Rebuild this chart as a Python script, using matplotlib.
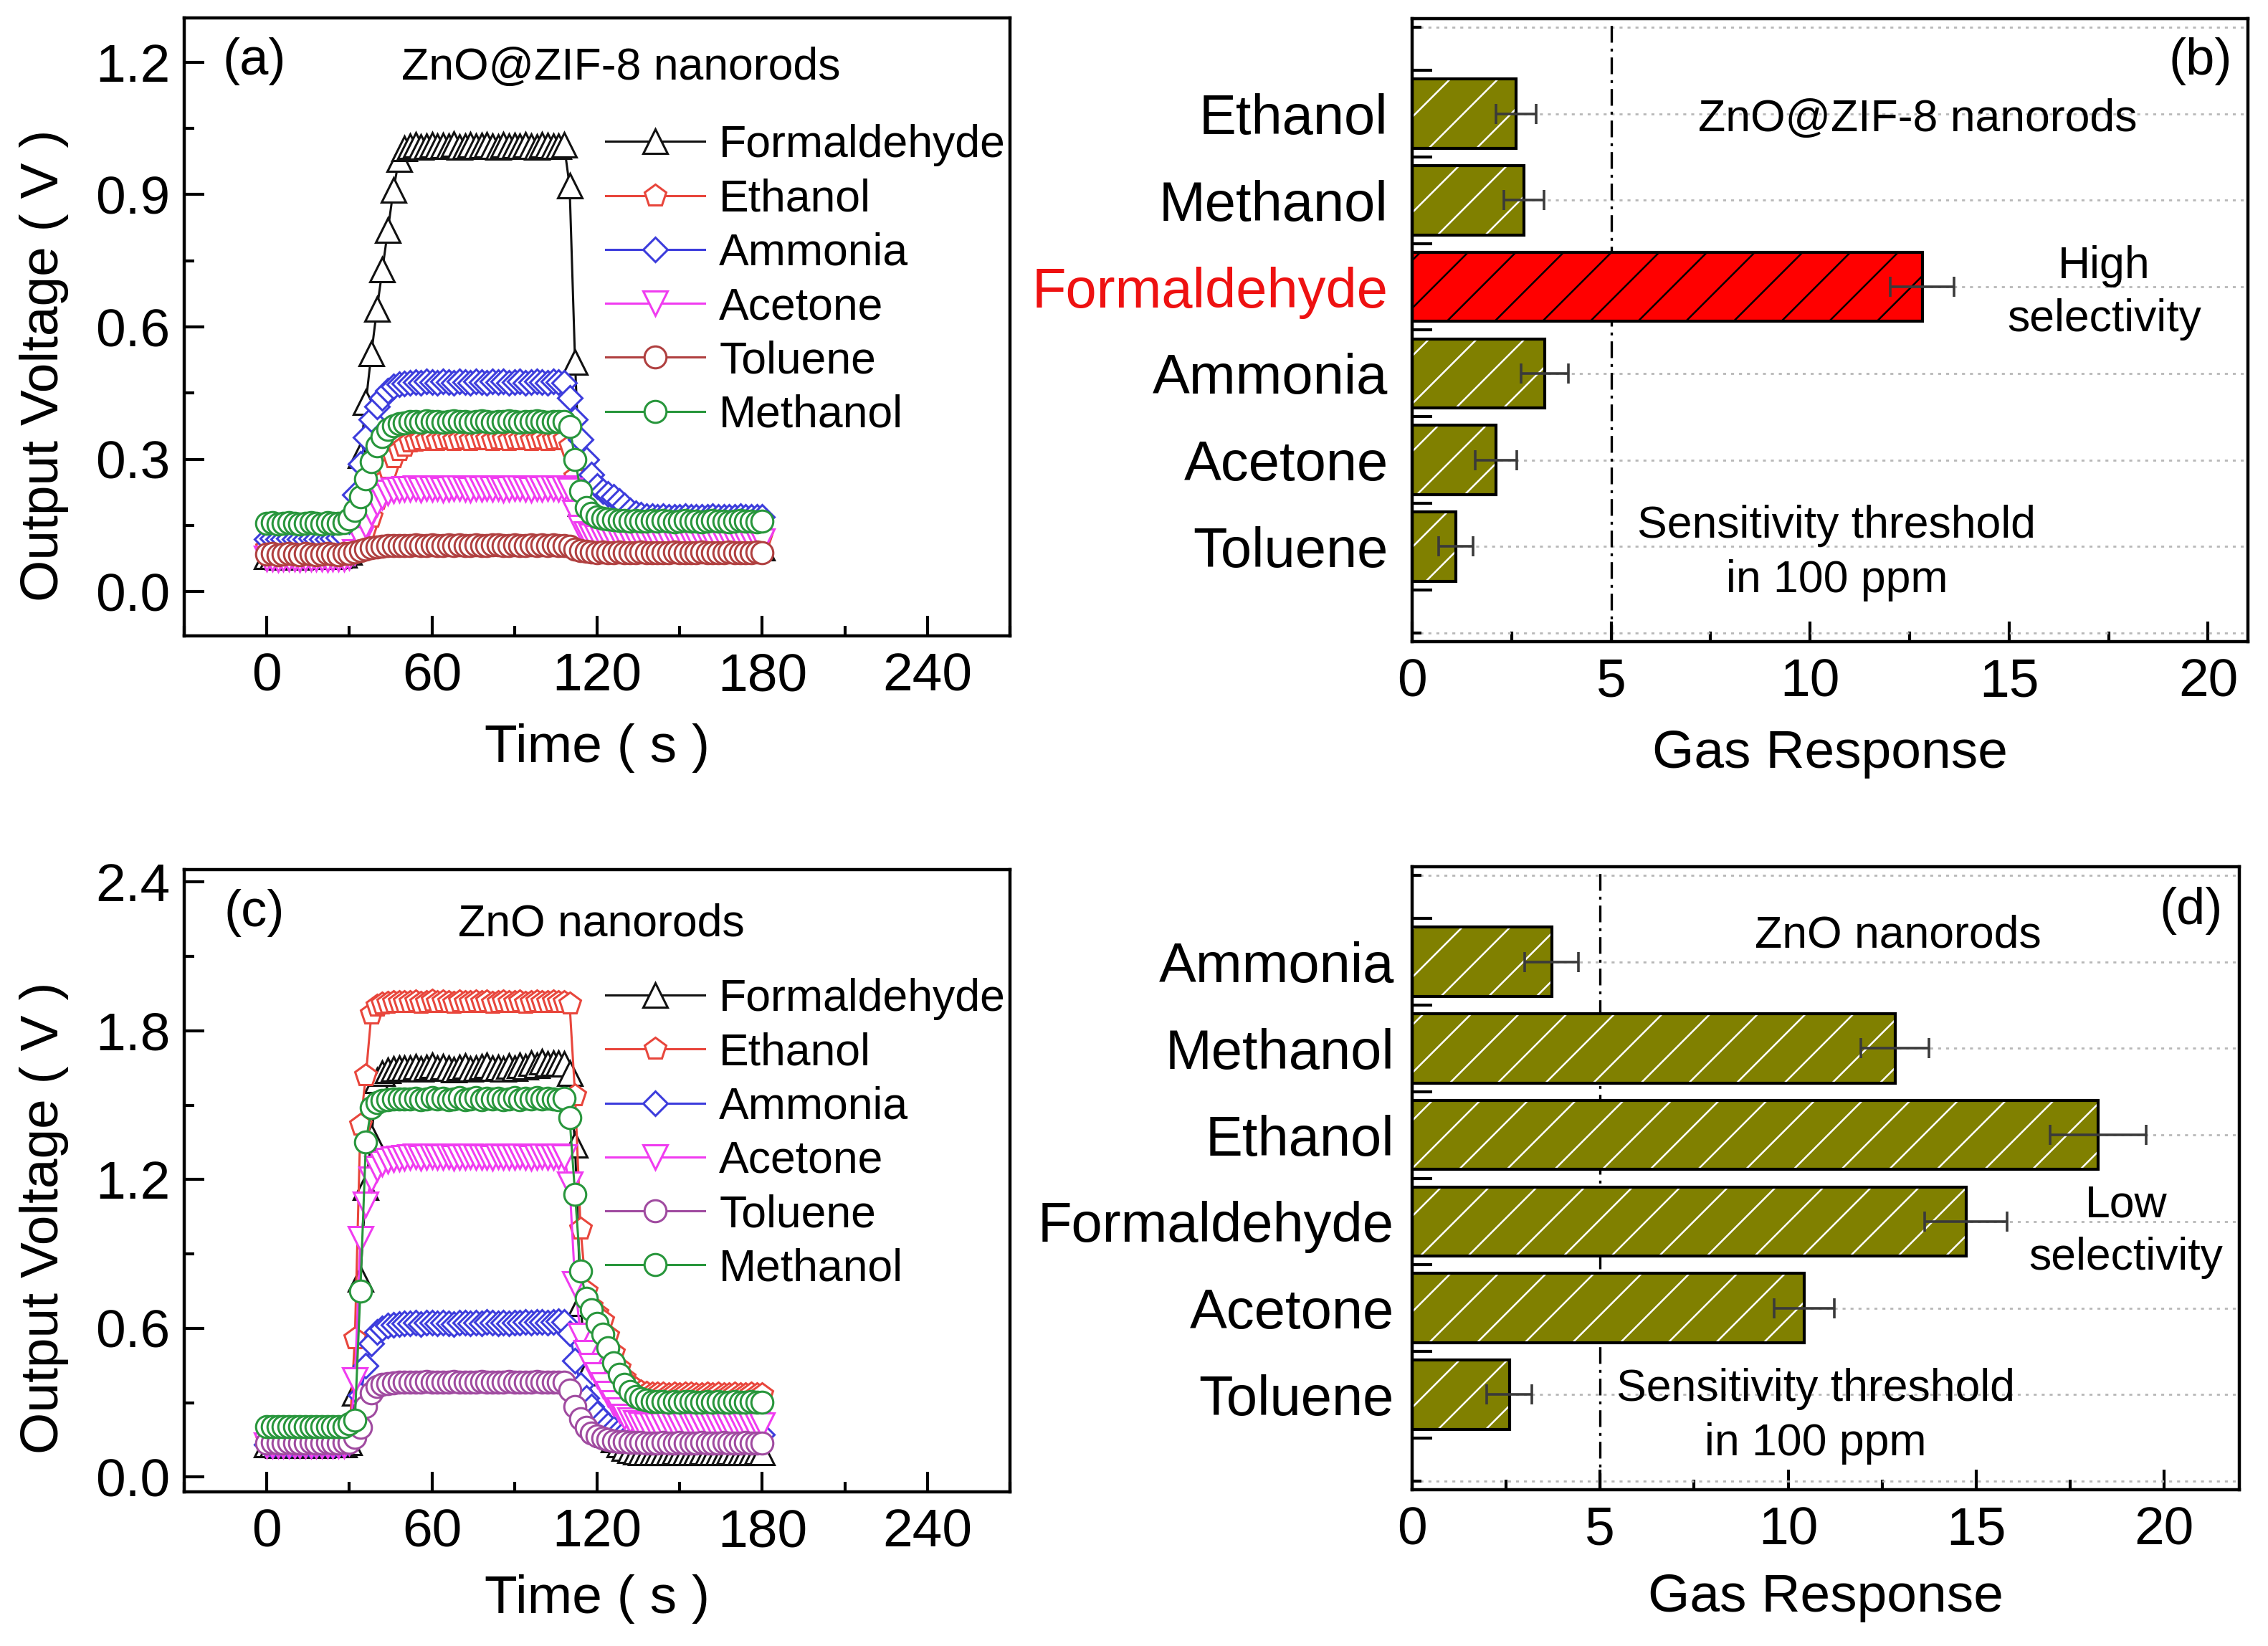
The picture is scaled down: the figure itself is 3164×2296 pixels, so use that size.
import matplotlib
matplotlib.use('Agg')
import matplotlib.pyplot as plt
from matplotlib.ticker import MultipleLocator, FormatStrFormatter

plt.rcParams['font.family'] = ['Liberation Sans', 'DejaVu Sans']
plt.rcParams['hatch.linewidth'] = 0.9

# ---------------- data ----------------
TIME = list(range(0, 181, 2))
GASES = ['Formaldehyde', 'Ethanol', 'Ammonia', 'Acetone', 'Toluene', 'Methanol']

# panel (a): ZnO@ZIF-8 nanorods, output voltage (V)
A_FORM = [
 0.080,0.081,0.079,0.080,0.082,0.080,0.079,0.081,0.080,0.080,0.082,0.081,0.080,0.082,0.083,
 0.090,0.200,0.310,0.430,0.540,0.640,0.730,0.820,0.910,0.980,1.005,
 1.010,1.012,1.008,1.010,1.013,1.009,1.011,1.010,1.014,1.008,1.010,1.012,1.009,1.011,1.013,
 1.010,1.008,1.012,1.010,1.011,1.009,1.013,1.010,1.008,1.012,1.011,1.010,1.009,1.012,
 0.920,0.520,0.200,0.120,0.105,0.100,0.099,0.100,0.101,0.100,0.099,0.100,0.100,0.101,0.100,0.099,
 0.100,0.101,0.100,0.099,0.100,0.100,0.101,0.100,0.099,0.100,0.101,0.100,0.100,0.099,0.100,0.101,0.100,0.100,0.099,0.100]
A_ETH = [
 0.100,0.101,0.099,0.100,0.100,0.101,0.100,0.099,0.100,0.101,0.100,0.100,0.099,0.100,0.101,
 0.100,0.105,0.115,0.140,0.170,0.210,0.250,0.280,0.305,0.320,0.330,
 0.340,0.342,0.345,0.343,0.346,0.344,0.345,0.347,0.344,0.345,0.346,0.343,0.345,0.347,0.345,
 0.344,0.346,0.345,0.343,0.346,0.345,0.347,0.344,0.345,0.346,0.344,0.345,0.346,0.345,
 0.330,0.260,0.200,0.165,0.145,0.137,0.133,0.131,0.130,0.129,0.130,0.128,0.130,0.129,0.130,0.128,
 0.128,0.129,0.127,0.128,0.129,0.128,0.127,0.128,0.128,0.129,0.127,0.128,0.128,0.127,0.129,0.128,0.127,0.128,0.128,0.127]
A_NH3 = [
 0.120,0.121,0.119,0.120,0.121,0.120,0.119,0.120,0.121,0.120,0.120,0.119,0.121,0.122,0.125,
 0.160,0.220,0.290,0.350,0.390,0.420,0.440,0.455,0.465,0.470,0.472,
 0.474,0.475,0.473,0.476,0.475,0.474,0.477,0.475,0.474,0.476,0.475,0.473,0.476,0.475,0.474,
 0.476,0.475,0.477,0.474,0.475,0.476,0.474,0.475,0.477,0.475,0.474,0.476,0.475,0.474,
 0.440,0.390,0.345,0.300,0.265,0.240,0.228,0.222,0.215,0.205,0.195,0.185,0.178,0.174,0.172,0.171,
 0.170,0.171,0.170,0.169,0.170,0.171,0.170,0.170,0.169,0.170,0.171,0.170,0.170,0.169,0.170,0.171,0.170,0.170,0.169,0.170]
A_ACE = [
 0.075,0.076,0.074,0.075,0.076,0.075,0.074,0.075,0.076,0.075,0.075,0.074,0.076,0.075,0.076,
 0.078,0.090,0.120,0.150,0.180,0.200,0.215,0.225,0.230,0.232,0.233,
 0.233,0.234,0.232,0.235,0.233,0.234,0.232,0.233,0.235,0.234,0.233,0.232,0.234,0.233,0.235,
 0.233,0.234,0.232,0.233,0.234,0.235,0.233,0.232,0.234,0.233,0.235,0.234,0.233,0.234,
 0.230,0.180,0.145,0.130,0.125,0.122,0.120,0.119,0.118,0.117,0.116,0.116,0.115,0.116,0.115,0.115,
 0.115,0.114,0.115,0.116,0.115,0.114,0.115,0.115,0.116,0.114,0.115,0.115,0.114,0.116,0.115,0.115,0.114,0.115,0.116,0.115]
A_TOL = [
 0.085,0.086,0.084,0.085,0.086,0.085,0.084,0.086,0.085,0.084,0.085,0.086,0.085,0.084,0.086,
 0.087,0.090,0.094,0.097,0.100,0.102,0.103,0.104,0.105,0.104,0.105,
 0.105,0.106,0.104,0.105,0.107,0.105,0.104,0.106,0.105,0.107,0.105,0.104,0.106,0.105,0.104,
 0.106,0.107,0.105,0.104,0.106,0.105,0.104,0.106,0.105,0.107,0.105,0.106,0.104,0.105,
 0.103,0.097,0.093,0.091,0.090,0.089,0.090,0.088,0.089,0.090,0.089,0.088,0.089,0.090,0.089,0.088,
 0.089,0.088,0.089,0.090,0.089,0.088,0.089,0.089,0.090,0.088,0.089,0.089,0.088,0.090,0.089,0.089,0.088,0.089,0.090,0.089]
A_MEOH = [
 0.155,0.156,0.154,0.155,0.156,0.155,0.154,0.155,0.156,0.155,0.154,0.156,0.155,0.155,0.157,
 0.165,0.185,0.215,0.255,0.295,0.330,0.352,0.367,0.376,0.381,0.383,
 0.385,0.386,0.384,0.387,0.385,0.386,0.384,0.385,0.387,0.386,0.385,0.384,0.386,0.387,0.385,
 0.384,0.386,0.385,0.387,0.385,0.384,0.386,0.385,0.387,0.386,0.384,0.385,0.386,0.385,
 0.375,0.300,0.228,0.190,0.177,0.170,0.166,0.164,0.163,0.162,0.161,0.160,0.161,0.160,0.160,0.161,
 0.160,0.161,0.160,0.159,0.160,0.161,0.160,0.160,0.159,0.160,0.161,0.160,0.160,0.159,0.160,0.161,0.160,0.160,0.159,0.160]

# panel (c): ZnO nanorods, output voltage (V)
C_FORM = [
 0.130,0.131,0.129,0.130,0.131,0.130,0.129,0.130,0.131,0.130,0.129,0.131,0.130,0.130,0.131,
 0.140,0.340,0.800,1.170,1.370,1.600,1.630,1.640,1.645,1.650,1.648,
 1.650,1.655,1.645,1.652,1.660,1.648,1.655,1.650,1.643,1.652,1.658,1.647,1.650,1.655,1.660,
 1.648,1.653,1.645,1.657,1.650,1.662,1.655,1.670,1.660,1.675,1.665,1.670,1.668,1.665,
 1.630,1.340,0.700,0.420,0.300,0.240,0.200,0.170,0.150,0.130,0.115,0.108,0.103,0.100,0.100,0.100,
 0.100,0.099,0.100,0.101,0.100,0.099,0.100,0.100,0.101,0.099,0.100,0.100,0.099,0.101,0.100,0.100,0.099,0.100,0.101,0.100]
C_ETH = [
 0.150,0.151,0.149,0.150,0.151,0.150,0.149,0.150,0.151,0.150,0.149,0.151,0.150,0.150,0.151,
 0.160,0.560,1.420,1.620,1.870,1.900,1.910,1.912,1.915,1.914,1.916,
 1.915,1.918,1.913,1.916,1.920,1.914,1.917,1.915,1.913,1.918,1.916,1.914,1.919,1.915,1.917,
 1.913,1.916,1.918,1.914,1.915,1.917,1.913,1.916,1.918,1.915,1.914,1.917,1.916,1.915,
 1.910,1.540,1.000,0.750,0.690,0.660,0.630,0.570,0.500,0.440,0.400,0.370,0.355,0.345,0.340,0.337,
 0.335,0.336,0.334,0.335,0.333,0.335,0.336,0.334,0.333,0.335,0.334,0.336,0.333,0.334,0.335,0.333,0.334,0.335,0.333,0.334]
C_NH3 = [
 0.130,0.129,0.131,0.130,0.129,0.130,0.131,0.130,0.129,0.130,0.131,0.130,0.129,0.130,0.131,
 0.140,0.200,0.330,0.450,0.540,0.585,0.600,0.610,0.615,0.618,0.620,
 0.620,0.622,0.618,0.621,0.623,0.619,0.622,0.620,0.618,0.623,0.621,0.619,0.622,0.620,0.624,
 0.621,0.619,0.622,0.620,0.623,0.621,0.625,0.622,0.624,0.626,0.623,0.625,0.627,0.624,
 0.580,0.470,0.370,0.320,0.285,0.255,0.230,0.210,0.195,0.185,0.178,0.174,0.172,0.171,0.170,0.170,
 0.170,0.171,0.169,0.170,0.171,0.170,0.169,0.170,0.171,0.170,0.169,0.170,0.171,0.170,0.169,0.170,0.171,0.170,0.169,0.170]
C_ACE = [
 0.128,0.129,0.127,0.128,0.129,0.128,0.127,0.128,0.129,0.128,0.127,0.129,0.128,0.128,0.129,
 0.140,0.390,0.960,1.100,1.200,1.245,1.265,1.275,1.282,1.286,1.288,
 1.290,1.292,1.288,1.291,1.293,1.289,1.290,1.292,1.288,1.291,1.290,1.293,1.289,1.291,1.290,
 1.288,1.292,1.290,1.291,1.289,1.293,1.290,1.288,1.291,1.292,1.289,1.290,1.292,1.290,
 1.180,0.780,0.570,0.500,0.450,0.410,0.370,0.335,0.300,0.270,0.245,0.228,0.218,0.213,0.210,0.210,
 0.210,0.209,0.211,0.210,0.209,0.210,0.211,0.210,0.209,0.210,0.211,0.210,0.209,0.210,0.211,0.210,0.209,0.210,0.211,0.210]
C_TOL = [
 0.138,0.139,0.137,0.138,0.139,0.138,0.137,0.138,0.139,0.138,0.137,0.139,0.138,0.138,0.139,
 0.140,0.160,0.200,0.285,0.340,0.365,0.374,0.378,0.380,0.381,0.382,
 0.382,0.383,0.381,0.384,0.382,0.383,0.381,0.382,0.384,0.383,0.382,0.381,0.383,0.384,0.382,
 0.383,0.381,0.382,0.384,0.383,0.382,0.381,0.383,0.384,0.382,0.383,0.382,0.381,0.383,
 0.350,0.285,0.236,0.200,0.178,0.165,0.156,0.150,0.146,0.143,0.141,0.140,0.139,0.139,0.138,0.138,
 0.138,0.139,0.137,0.138,0.139,0.138,0.137,0.138,0.139,0.138,0.137,0.138,0.139,0.138,0.137,0.138,0.139,0.138,0.137,0.138]
C_MEOH = [
 0.203,0.204,0.202,0.203,0.204,0.203,0.202,0.203,0.204,0.203,0.202,0.204,0.203,0.203,0.204,
 0.215,0.230,0.750,1.350,1.490,1.510,1.518,1.522,1.524,1.525,1.525,
 1.525,1.528,1.522,1.526,1.530,1.524,1.527,1.521,1.525,1.529,1.523,1.526,1.530,1.522,1.527,
 1.524,1.528,1.521,1.526,1.529,1.523,1.527,1.525,1.530,1.524,1.528,1.526,1.523,1.527,
 1.450,1.140,0.830,0.720,0.675,0.620,0.575,0.520,0.460,0.415,0.375,0.345,0.325,0.315,0.310,0.305,
 0.303,0.304,0.302,0.303,0.301,0.303,0.304,0.302,0.301,0.303,0.302,0.304,0.301,0.302,0.303,0.301,0.302,0.303,0.301,0.302]

# panel (b): ZnO@ZIF-8 gas response
B_CATS = ['Ethanol', 'Methanol', 'Formaldehyde', 'Ammonia', 'Acetone', 'Toluene']
B_VALS = [2.61, 2.81, 12.82, 3.33, 2.11, 1.10]
B_ERRS = [0.50, 0.50, 0.80, 0.60, 0.52, 0.43]
# panel (d): ZnO gas response
D_CATS = ['Ammonia', 'Methanol', 'Ethanol', 'Formaldehyde', 'Acetone', 'Toluene']
D_VALS = [3.71, 12.84, 18.24, 14.73, 10.42, 2.59]
D_ERRS = [0.71, 0.91, 1.28, 1.10, 0.80, 0.60]
THRESHOLD = 5

for s in (A_FORM, A_ETH, A_NH3, A_ACE, A_TOL, A_MEOH, C_FORM, C_ETH, C_NH3, C_ACE, C_TOL, C_MEOH):
    assert len(s) == len(TIME), len(s)

# ---------------- styles ----------------
MARKERS = ['^', 'p', 'D', 'v', 'o', 'o']
MSIZES = [12, 11.5, 8.5, 12, 11, 11]
COLORS_A = ['#111111', '#E8463C', '#3C3CDC', '#F03CF0', '#B04040', '#28963C']
COLORS_C = ['#111111', '#E8463C', '#3C3CDC', '#F03CF0', '#A04BA0', '#28963C']
OLIVE = '#808000'

W, H = 3164, 2296
fig = plt.figure(figsize=(W / 200, H / 200), dpi=200)

def rect(x0, y0, x1, y1):
    return [x0 / W, 1 - y1 / H, (x1 - x0) / W, (y1 - y0) / H]

axA = fig.add_axes(rect(257, 25, 1409, 887))
axB = fig.add_axes(rect(1970, 26, 3136, 895))
axC = fig.add_axes(rect(257, 1213, 1409, 2081))
axD = fig.add_axes(rect(1970, 1209, 3124, 2078))

for ax in (axA, axB, axC, axD):
    for sp in ax.spines.values():
        sp.set_linewidth(1.6)


def line_panel(ax, series, colors, ylim, ymaj, ymin, tag, title, title_x, title_y,
               leg_y, ylab_y, xlab_y):
    for name, vals, c, m, ms in zip(GASES, series, colors, MARKERS, MSIZES):
        ax.plot(TIME, vals, color=c, lw=1.1, marker=m, ms=ms, mfc='white',
                mec=c, mew=1.1, label=name)
    ax.set_xlim(-30, 270)
    ax.set_ylim(*ylim)
    ax.xaxis.set_major_locator(MultipleLocator(60))
    ax.xaxis.set_minor_locator(MultipleLocator(30))
    ax.yaxis.set_major_locator(MultipleLocator(ymaj))
    ax.yaxis.set_minor_locator(MultipleLocator(ymin))
    ax.yaxis.set_major_formatter(FormatStrFormatter('%.1f'))
    ax.tick_params(which='both', direction='in', width=1.5, top=False, right=False)
    ax.tick_params(which='major', length=10)
    ax.tick_params(which='minor', length=5)
    ax.tick_params(axis='x', labelsize=27, pad=8)
    ax.tick_params(axis='y', labelsize=27, pad=7)
    ax.set_xlabel('Time ( s )', fontsize=27)
    ax.xaxis.set_label_coords(0.5, xlab_y)
    ax.xaxis.label.set_va('center')
    ax.set_ylabel('Output Voltage ( V )', fontsize=27)
    ax.yaxis.set_label_coords(-0.17, ylab_y)
    ax.yaxis.label.set_va('center')
    ax.text(0.085, 0.93, tag, transform=ax.transAxes, fontsize=26, ha='center', va='center')
    ax.text(title_x, title_y, title, transform=ax.transAxes, fontsize=22.5,
            ha='center', va='center')
    ax.legend(loc='upper left', bbox_to_anchor=(0.51, leg_y), frameon=False,
              fontsize=22.5, handlelength=2.22, handletextpad=0.32, labelspacing=0.26,
              borderaxespad=0, borderpad=0)


line_panel(axA, [A_FORM, A_ETH, A_NH3, A_ACE, A_TOL, A_MEOH], COLORS_A,
           (-0.1, 1.3), 0.3, 0.15, '(a)', 'ZnO@ZIF-8 nanorods', 0.529, 0.92,
           0.828, 0.438, -0.181)
line_panel(axC, [C_FORM, C_ETH, C_NH3, C_ACE, C_TOL, C_MEOH], COLORS_C,
           (-0.06, 2.45), 0.6, 0.3, '(c)', 'ZnO nanorods', 0.505, 0.912,
           0.826, 0.44, -0.172)


def bar_panel(ax, cats, vals, errs, faces, hatchcols, xmax, ypad, tag, tag_xy,
              title, title_xy, sel, sel_xy, thr_xy, xlab_y, red_label=None):
    pos = list(range(1, len(cats) + 1))
    ax.barh(pos, vals, height=0.8, color=faces, edgecolor=hatchcols, linewidth=0,
            hatch='/', zorder=2)
    ax.barh(pos, vals, height=0.8, fill=False, edgecolor='black', linewidth=1.5, zorder=3)
    ax.errorbar(vals, pos, xerr=errs, fmt='none', ecolor='#3a3a3a', elinewidth=1.3,
                capsize=5, capthick=1.3, zorder=4)
    ax.axvline(THRESHOLD, color='black', lw=1.2, ls=(0, (7, 2.5, 1.2, 2.5)), zorder=1)
    ax.set_xlim(0, xmax)
    ax.set_ylim(7.1, -0.1)
    ax.set_yticks(list(range(0, len(cats) + 2)))
    ax.set_yticklabels([''] + cats + [''])
    ax.set_yticks([p + 0.5 for p in range(0, len(cats) + 1)], minor=True)
    ax.xaxis.set_major_locator(MultipleLocator(5))
    ax.xaxis.set_minor_locator(MultipleLocator(2.5))
    ax.grid(axis='y', which='major', ls=(0, (1.5, 2.5)), color='#b8b8b8', lw=1.0, zorder=0)
    ax.set_axisbelow(True)
    ax.tick_params(which='both', direction='in', width=1.5, top=False, right=False)
    ax.tick_params(axis='x', which='major', length=10, labelsize=27, pad=8)
    ax.tick_params(axis='x', which='minor', length=5)
    ax.tick_params(axis='y', which='major', length=4.5, labelsize=28, pad=ypad)
    ax.tick_params(axis='y', which='minor', length=10)
    if red_label is not None:
        ax.get_yticklabels()[red_label + 1].set_color('#EE1111')
    ax.set_xlabel('Gas Response', fontsize=27)
    ax.xaxis.set_label_coords(0.5, xlab_y)
    ax.xaxis.label.set_va('center')
    ax.text(*tag_xy, tag, transform=ax.transAxes, fontsize=26, ha='center', va='center')
    ax.text(*title_xy, title, transform=ax.transAxes, fontsize=22.5, ha='center', va='center')
    ax.text(*sel_xy, sel, transform=ax.transAxes, fontsize=22.5, ha='center', va='center',
            linespacing=1.32)
    ax.text(*thr_xy, 'Sensitivity threshold\nin 100 ppm', transform=ax.transAxes,
            fontsize=22.5, ha='center', va='center', linespacing=1.38)


b_faces = ['#FF0000' if c == 'Formaldehyde' else OLIVE for c in B_CATS]
b_hatch = ['black' if c == 'Formaldehyde' else 'white' for c in B_CATS]
bar_panel(axB, B_CATS, B_VALS, B_ERRS, b_faces, b_hatch, 21, 12, '(b)', (0.943, 0.931),
          'ZnO@ZIF-8 nanorods', (0.605, 0.839), 'High\nselectivity', (0.828, 0.56),
          (0.508, 0.142), -0.18, red_label=B_CATS.index('Formaldehyde'))
bar_panel(axD, D_CATS, D_VALS, D_ERRS, [OLIVE] * len(D_CATS), ['white'] * len(D_CATS), 22, 9,
          '(d)', (0.942, 0.929), 'ZnO nanorods', (0.587, 0.89), 'Low\nselectivity',
          (0.863, 0.415), (0.488, 0.118), -0.173)

fig.savefig('out.png', dpi=200, facecolor='white')
